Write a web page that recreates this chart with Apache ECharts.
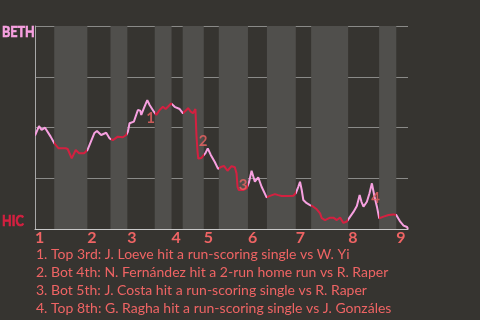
<!DOCTYPE html>
<html>
<head>
<meta charset="utf-8">
<script src="https://cdn.jsdelivr.net/npm/echarts@6/dist/echarts.min.js"></script>
<style>
html,body{margin:0;padding:0;background:#363430;}
#chart{width:480px;height:320px;}
</style>
</head>
<body>
<div id="chart"></div>
<script>
// Half-inning start positions (play progress units), game end
const halfStarts = [0, 6.4, 17.4, 25.1, 30.7, 39.8, 45.4, 49.1, 56.1, 61.1, 70.8, 77.1, 86.7, 91.8, 104.1, 114.4, 120.1];
const gameEnd = 124;
const inningLabels = ['1','2','3','4','5','6','7','8','9'];
const teamTop = 'BETH';
const teamBottom = 'HIC';

// Win probability (BETH %) by play progress
const playX = [0,1.33,2.2,3.33,5.2,6.43,7.77,10.2,10.87,12.2,13.53,14.67,16.33,17.43,19.77,20.6,21.1,22.0,23.67,24.77,
  25.87,27.53,29.2,30.33,30.87,31.43,32.87,34.2,35.0,35.33,36.2,37.33,38.1,38.67,39.53,40.33,41.43,42.53,43.43,44.2,
  45.27,46.43,48.1,49.2,50.33,50.87,51.77,52.53,53.33,53.67,54.0,54.27,55.33,55.93,56.67,57.43,58.43,59.77,60.87,62.0,
  62.87,64.0,65.33,66.43,67.0,67.33,67.77,69.2,70.33,71.1,72.0,73.1,74.2,75.33,77.0,78.1,79.77,80.87,82.0,84.2,
  85.87,86.67,87.53,88.1,88.67,89.2,90.33,91.43,92.53,93.67,94.77,95.33,96.43,98.1,99.2,100.33,101.43,102.53,103.67,104.77,
  105.87,107.0,107.93,108.53,109.2,110.33,111.2,112.0,112.87,113.67,114.43,115.87,117.53,119.2,120.1,121.43,122.53,123.67,124];
const winProb = [46.0,50.7,48.8,49.9,45.5,42.2,39.8,39.8,39.4,34.8,38.9,37.3,37.3,38.9,47.3,48.3,47.4,46.3,47.4,44.7,
  43.8,45.5,45.2,46.3,47.9,52.1,52.9,58.6,58.3,56.2,59.5,63.5,61.1,61.9,57.8,56.2,58.6,60.2,59.1,60.2,
  61.9,60.2,59.1,57.0,58.6,59.6,57.8,57.0,59.1,46.3,38.9,34.7,35.0,35.7,37.4,39.7,36.5,33.0,29.6,30.7,
  31.0,28.7,31.0,30.4,27.4,20.8,19.2,19.2,20.0,22.8,28.7,23.3,25.5,20.8,15.6,16.3,17.2,16.7,16.3,16.3,
  16.4,17.6,20.8,23.3,19.2,14.3,12.7,11.8,11.0,9.7,7.7,5.3,4.4,5.6,5.6,4.4,5.6,3.0,3.7,6.1,
  8.4,11.3,16.7,13.4,11.0,13.4,17.6,22.5,15.9,11.0,5.3,6.1,6.9,7.2,6.9,3.6,1.7,1.0,0];

// Key events
const eventLabels = ['1','2','3','4'];
const eventX = [38.4, 55.9, 69.2, 113.2];
const eventY = [54.7, 43.5, 21.5, 15.1];
const eventTexts = [
  '1. Top 3rd: J. Loeve hit a run-scoring single vs W. Yi',
  '2. Bot 4th: N. Fernández hit a 2-run home run vs R. Raper',
  '3. Bot 5th: J. Costa hit a run-scoring single vs R. Raper',
  '4. Top 8th: G. Ragha hit a run-scoring single vs J. Gonzáles'
];

const PINK = '#f7a0e0', RED = '#d42040', SALMON = '#ef6464';
const FONT = 'Lato, "Noto Sans", sans-serif';

const bounds = halfStarts.concat([gameEnd]);
const pieces = [];
const bands = [];
for (let i = 0; i < halfStarts.length; i++) {
  pieces.push({gte: bounds[i], lt: bounds[i+1] + (i === halfStarts.length-1 ? 1 : 0), color: i % 2 === 0 ? PINK : RED});
  if (i % 2 === 1) bands.push([{xAxis: bounds[i]}, {xAxis: bounds[i+1]}]);
}
const inningStarts = halfStarts.filter((v, i) => i % 2 === 0);

const chart = echarts.init(document.getElementById('chart'));
chart.setOption({
  backgroundColor: '#363430',
  animation: false,
  textStyle: {fontFamily: FONT},
  grid: {left: 35, right: 72, top: 26, bottom: 91},
  xAxis: {
    type: 'value', min: 0, max: gameEnd,
    splitLine: {show: false},
    axisTick: {show: false},
    axisLine: {show: true, lineStyle: {color: '#c8c8c8', width: 1}},
    axisLabel: {
      customValues: inningStarts,
      formatter: (v) => inningLabels[inningStarts.indexOf(v)],
      align: 'left', margin: 1, color: SALMON, fontSize: 16, fontWeight: 'bold', fontFamily: FONT
    }
  },
  yAxis: {
    type: 'value', min: 0, max: 100, interval: 25,
    axisLine: {show: true, lineStyle: {color: '#a8a8a8'}},
    axisTick: {show: false},
    splitLine: {show: true, lineStyle: {color: '#8a8a88', width: 1}},
    axisLabel: {show: false}
  },
  visualMap: {show: false, type: 'piecewise', dimension: 0, seriesIndex: 1, pieces: pieces},
  series: [
    {type: 'line', data: [], silent: true,
     markArea: {silent: true, itemStyle: {color: '#504f4c'}, data: bands}},
    {type: 'line', data: playX.map((x, i) => [x, winProb[i]]), showSymbol: false, symbol: 'none',
     lineStyle: {width: 2}, z: 3},
    {type: 'scatter', data: eventX.map((x, i) => [x, eventY[i], eventLabels[i]]), symbolSize: 1,
     itemStyle: {color: 'rgba(0,0,0,0)'}, z: 4,
     label: {show: true, position: 'inside', formatter: (p) => p.value[2], color: SALMON,
       fontSize: 15, fontWeight: 'bold', fontFamily: FONT}}
  ],
  graphic: [
    {type: 'text', x: 2, y: 25, scaleX: 0.84,
     style: {text: teamTop, fill: PINK, stroke: PINK, lineWidth: 0.7, font: 'bold 15px ' + FONT}},
    {type: 'text', x: 2, y: 214, scaleX: 0.84,
     style: {text: teamBottom, fill: RED, stroke: RED, lineWidth: 0.7, font: 'bold 15px ' + FONT}},
    {type: 'text', left: 36, top: 246,
     style: {text: eventTexts.join('\n'), fill: SALMON, font: '14px ' + FONT, lineHeight: 17.8}}
  ]
});
</script>
</body>
</html>
